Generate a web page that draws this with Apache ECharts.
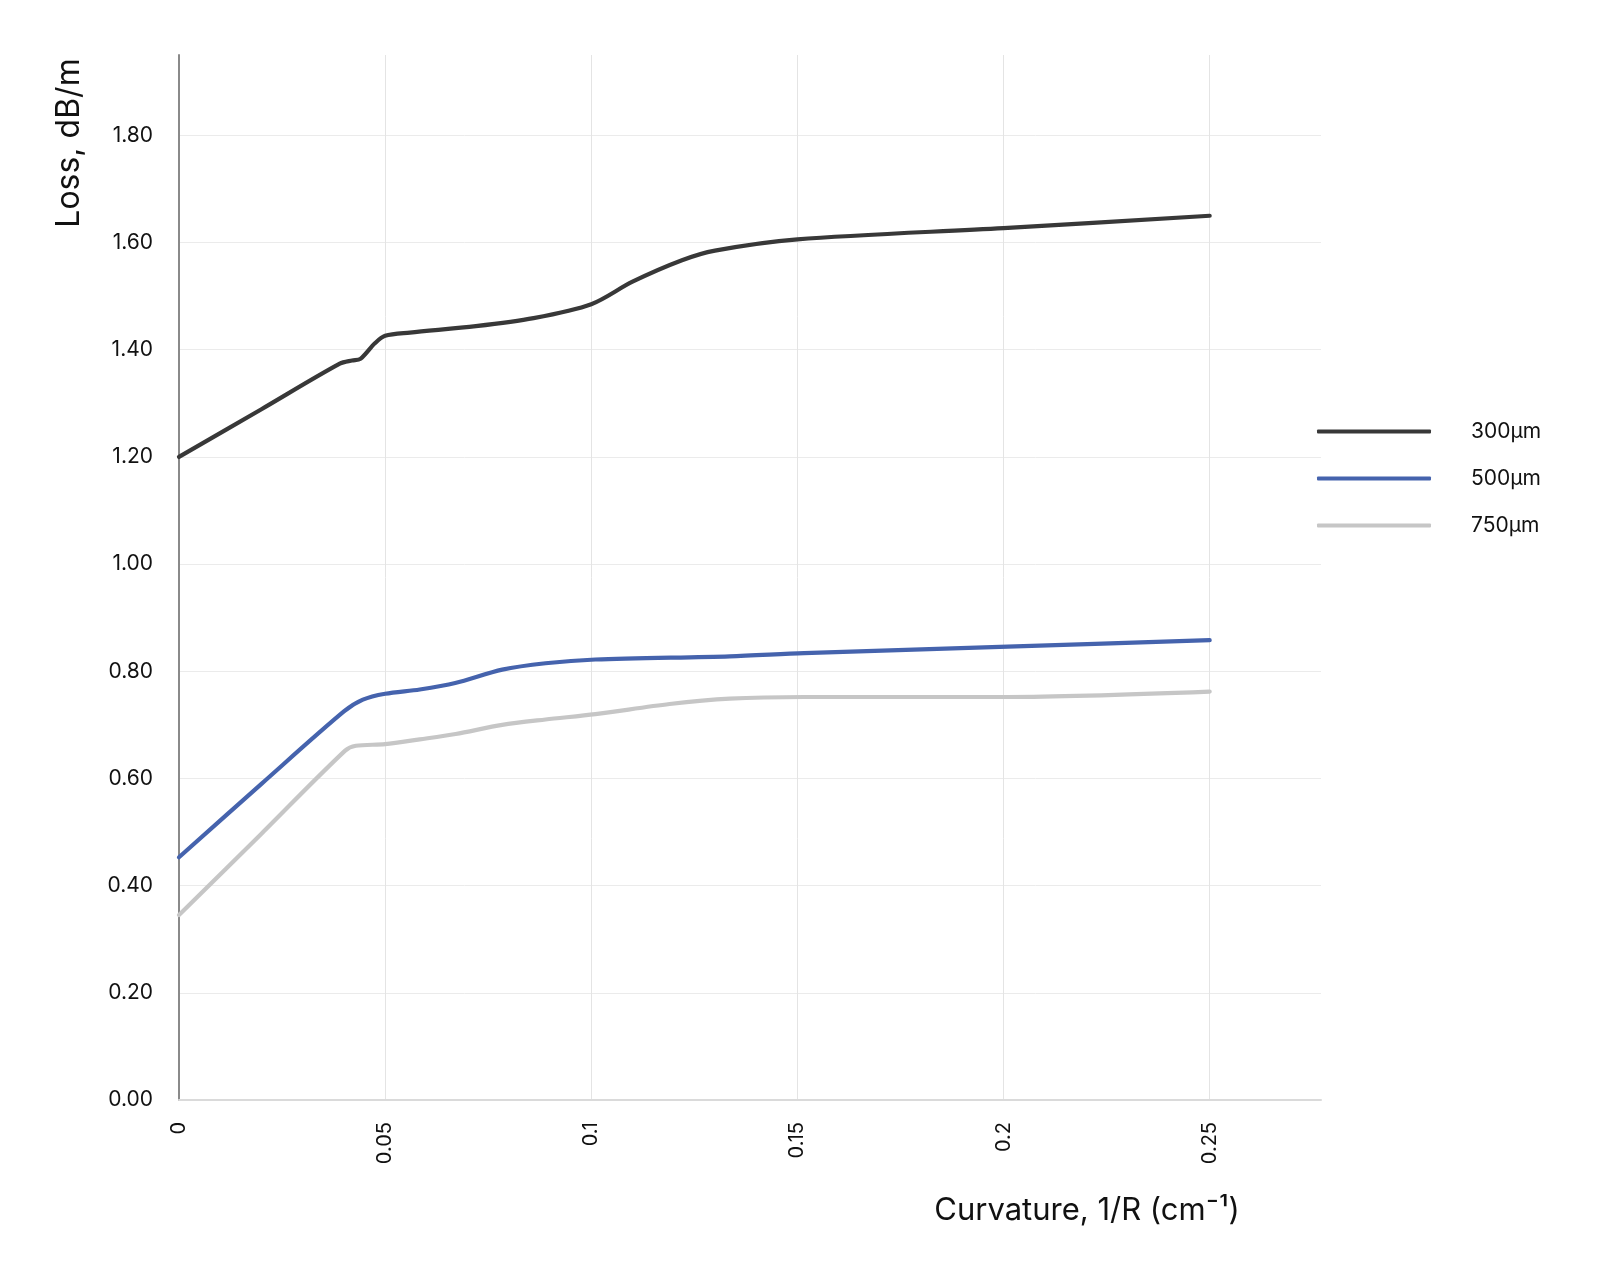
<!DOCTYPE html>
<html>
<head>
<meta charset="utf-8">
<script src="https://cdn.jsdelivr.net/npm/echarts@6/dist/echarts.min.js"></script>
<style>
html,body{margin:0;padding:0;background:#fff;}
#chart{width:1605px;height:1275px;}
</style>
</head>
<body>
<div id="chart"></div>
<script>
// ---- data ----
var seriesNames = ['300µm', '500µm', '750µm'];

var curv300 = [0, 0.020, 0.039, 0.042, 0.044, 0.0475, 0.050, 0.056, 0.072, 0.086, 0.100, 0.110, 0.122, 0.130, 0.150, 0.200, 0.250];
var loss300 = [1.200, 1.289, 1.374, 1.380, 1.383, 1.412, 1.426, 1.432, 1.444, 1.459, 1.485, 1.527, 1.567, 1.585, 1.606, 1.627, 1.650];

var curv500 = [0, 0.020, 0.040, 0.0446, 0.050, 0.0584, 0.067, 0.0784, 0.0889, 0.101, 0.1336, 0.1516, 0.201, 0.250];
var loss500 = [0.453, 0.590, 0.725, 0.747, 0.758, 0.766, 0.778, 0.803, 0.815, 0.822, 0.828, 0.834, 0.846, 0.858];

var curv750 = [0, 0.020, 0.0403, 0.0429, 0.050, 0.0584, 0.0671, 0.0784, 0.0889, 0.101, 0.119, 0.1336, 0.1516, 0.201, 0.250];
var loss750 = [0.345, 0.497, 0.652, 0.661, 0.664, 0.673, 0.683, 0.700, 0.710, 0.720, 0.739, 0.749, 0.752, 0.752, 0.762];

var yAxisTitle = 'Loss, dB/m';
var xAxisTitle = 'Curvature, 1/R (cm⁻¹)';

var colors = ['#383838', '#4563ad', '#c6c6c6'];

function zip(xs, ys) { return xs.map(function (x, i) { return [x, ys[i]]; }); }

var FONT = 'Inter, "Noto Sans", sans-serif';
var chart = echarts.init(document.getElementById('chart'), null, {renderer: 'canvas'});

var lineSeries = [[curv300, loss300], [curv500, loss500], [curv750, loss750]].map(function (d, i) {
  return {
    name: seriesNames[i],
    type: 'line',
    data: zip(d[0], d[1]),
    symbol: 'none',
    showSymbol: false,
    smooth: 0.3,
    lineStyle: {color: colors[i], width: 4.2, cap: 'round', join: 'round'},
    itemStyle: {color: colors[i]},
    z: 5 - i
  };
});

chart.setOption({
  animation: false,
  backgroundColor: '#ffffff',
  textStyle: {fontFamily: FONT},
  grid: {left: 179, right: 284, top: 55, bottom: 175, containLabel: false},
  xAxis: {
    type: 'value',
    min: 0,
    max: 0.277,
    interval: 0.05,
    axisLine: {show: true, lineStyle: {color: '#dadada', width: 2}},
    axisTick: {show: false},
    axisLabel: {
      rotate: 90,
      margin: 22,
      fontSize: 20,
      color: '#111',
      fontFamily: FONT,
      showMaxLabel: false
    },
    splitLine: {show: true, showMaxLine: false, showMinLine: false, lineStyle: {color: '#e4e4e4', width: 1}}
  },
  yAxis: {
    type: 'value',
    min: 0,
    max: 1.95,
    interval: 0.2,
    axisLine: {show: true, lineStyle: {color: '#8a8a8a', width: 2}},
    axisTick: {show: false},
    axisLabel: {
      margin: 26,
      fontSize: 21,
      color: '#111',
      fontFamily: FONT,
      showMaxLabel: false,
      formatter: function (v) { return v.toFixed(2); }
    },
    splitLine: {show: true, showMaxLine: false, showMinLine: false, lineStyle: {color: '#ebebeb', width: 1}}
  },
  legend: {
    orient: 'vertical',
    left: 1312,
    top: 416,
    icon: 'roundRect',
    itemWidth: 114,
    itemHeight: 4,
    itemGap: 26,
    data: seriesNames,
    textStyle: {fontSize: 21, color: '#111', fontFamily: FONT, padding: [0, 0, 0, 35]}
  },
  graphic: [
    {
      type: 'text',
      x: 69, y: 143,
      rotation: Math.PI / 2,
      style: {text: yAxisTitle, fontSize: 32, fontFamily: FONT, fill: '#111', align: 'center', verticalAlign: 'middle'}
    },
    {
      type: 'text',
      x: 1087, y: 1211,
      style: {text: xAxisTitle, fontSize: 31, fontFamily: FONT, fill: '#111', align: 'center', verticalAlign: 'middle'}
    }
  ],
  series: lineSeries
});
</script>
</body>
</html>
